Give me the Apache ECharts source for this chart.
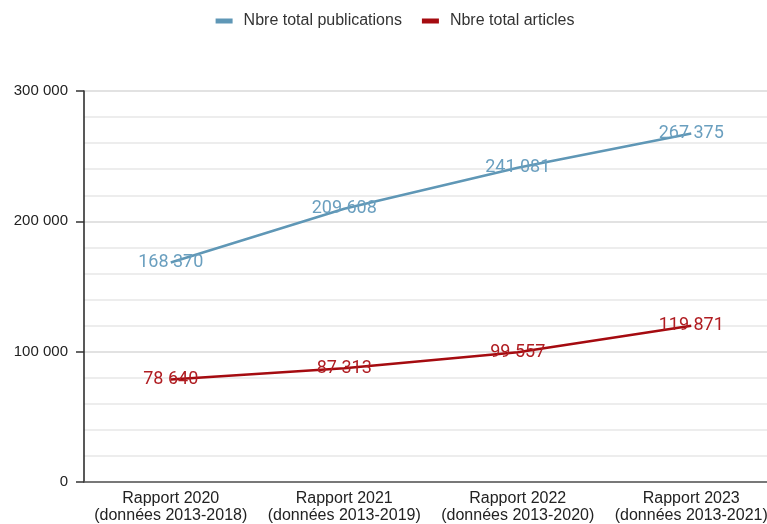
<!DOCTYPE html>
<html>
<head>
<meta charset="utf-8">
<script src="https://cdn.jsdelivr.net/npm/echarts@6/dist/echarts.min.js"></script>
<style>
  html, body { margin: 0; padding: 0; background: #fff; overflow: hidden; }
  #chart { width: 790px; height: 524px; }
</style>
</head>
<body>
<div id="chart"></div>
<script>
// Categories and values
const categories = [
  'Rapport 2020\n(données 2013-2018)',
  'Rapport 2021\n(données 2013-2019)',
  'Rapport 2022\n(données 2013-2020)',
  'Rapport 2023\n(données 2013-2021)'
];
const publications = [168370, 209608, 241081, 267375];
const articles = [78640, 87313, 99557, 119871];
const seriesNames = ['Nbre total publications', 'Nbre total articles'];

// French thousands grouping with a space
function fmt(v) {
  return String(Math.round(v)).replace(/\B(?=(\d{3})+(?!\d))/g, ' ');
}

const chart = echarts.init(document.getElementById('chart'));

function lineSeries(name, data, lineColor, labelColor) {
  return {
    name: name,
    type: 'line',
    data: data,
    symbol: 'circle',
    symbolSize: 2,
    itemStyle: { color: 'rgba(0,0,0,0)', borderWidth: 0 },
    lineStyle: { color: lineColor, width: 2.5 },
    label: {
      show: true,
      position: 'inside',
      color: labelColor,
      fontSize: 18,
      fontFamily: 'Roboto, sans-serif',
      formatter: p => fmt(p.value)
    },
    emphasis: { disabled: true },
    animation: false
  };
}

chart.setOption({
  backgroundColor: '#fff',
  legend: {
    top: 8,
    left: 'center',
    itemWidth: 17,
    itemHeight: 5,
    itemGap: 20,
    icon: 'rect',
    textStyle: {
      color: '#333',
      fontSize: 16,
      padding: [0, 0, 0, 6],
      fontFamily: 'Liberation Sans, Arial, sans-serif'
    },
    data: [
      { name: seriesNames[0], itemStyle: { color: '#5f97b6' } },
      { name: seriesNames[1], itemStyle: { color: '#a50b10' } }
    ]
  },
  grid: { left: 84, right: 12, top: 91, bottom: 33, containLabel: false },
  xAxis: {
    type: 'category',
    data: categories,
    boundaryGap: true,
    axisLine: { show: true, lineStyle: { color: '#555', width: 1.5 } },
    axisTick: { show: false },
    axisLabel: {
      color: '#222',
      fontSize: 16,
      lineHeight: 17,
      margin: 8,
      interval: 0,
      fontFamily: 'Liberation Sans, Arial, sans-serif'
    }
  },
  yAxis: {
    type: 'value',
    min: 0,
    max: 300000,
    interval: 100000,
    axisLine: { show: true, lineStyle: { color: '#222', width: 1.5 } },
    axisTick: { show: true, inside: false, length: 8, lineStyle: { color: '#333', width: 1.5 } },
    axisLabel: {
      color: '#222',
      fontSize: 15,
      margin: 16,
      fontFamily: 'Liberation Sans, Arial, sans-serif',
      formatter: v => fmt(v)
    },
    splitLine: { show: true, lineStyle: { color: '#d8d8d8', width: 1.5 } },
    minorTick: { show: false, splitNumber: 5 },
    minorSplitLine: { show: true, lineStyle: { color: '#e8e8e8', width: 1.5 } }
  },
  series: [
    lineSeries(seriesNames[0], publications, '#5f97b6', '#6a9fbf'),
    lineSeries(seriesNames[1], articles, '#a50b10', '#b01d22')
  ]
});
</script>
</body>
</html>
